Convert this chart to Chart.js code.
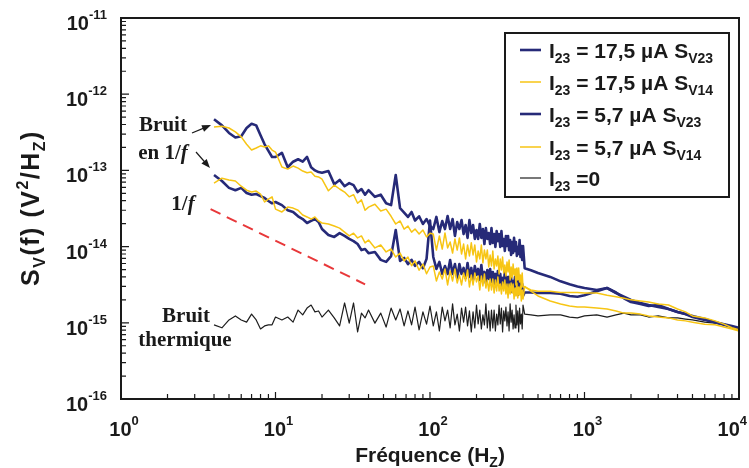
<!DOCTYPE html>
<html>
<head>
<meta charset="utf-8">
<script src="https://cdn.jsdelivr.net/npm/chart.js@4.4.0/dist/chart.umd.min.js"></script>
<style>
  html, body { margin: 0; padding: 0; background: #fff; }
  #wrap { width: 749px; height: 468px; }
</style>
</head>
<body>
<div id="wrap"><canvas id="bruit" width="749" height="468"></canvas></div>
<script>
// fréquences (Hz), communes à toutes les courbes
const freq = [4, 4.5, 5, 5.5, 6, 6.5, 7, 7.5, 8, 8.5, 9, 9.5, 10,
  11, 12, 13, 14, 15, 16, 17, 18, 19, 20,
  22, 24, 26, 28, 30, 32, 34, 36, 38, 40,
  44, 48, 52, 56, 60, 64, 68, 72, 76, 80, 85, 90, 95, 100,
  105, 110, 115, 120, 125, 130, 135, 140, 145, 150, 155, 160, 165, 170, 175, 180, 185, 190, 195, 200,
  205, 210, 215, 220, 225, 230, 235, 240, 245, 250, 255, 260, 265, 270, 275, 280, 285, 290, 295, 300,
  305, 310, 315, 320, 325, 330, 335, 340, 345, 350, 355, 360, 365, 370, 375, 380, 385, 390, 395, 400,
  410, 450, 500, 600, 700, 800, 900, 1000, 1200, 1400, 1600, 1800, 2000, 2300, 2600, 3000, 3500, 4000, 4500, 5000, 6000, 7000, 8000, 9000, 10000];

// Sv(f) en V²/Hz
const sv23_17 = [4.7e-13, 3.9e-13, 3.1e-13, 2.7e-13, 2.8e-13, 3.6e-13, 4.1e-13, 3.9e-13, 2.9e-13, 2.2e-13, 1.8e-13, 1.5e-13, 1.5e-13,
  1.7e-13, 1.1e-13, 1.3e-13, 1.4e-13, 1.3e-13, 1.5e-13, 1.1e-13, 1.0e-13, 9.5e-14, 9.3e-14,
  9.8e-14, 6.6e-14, 7.5e-14, 6.2e-14, 6.8e-14, 6.4e-14, 5.2e-14, 5.7e-14, 4.8e-14, 5.5e-14,
  4.5e-14, 4.8e-14, 3.7e-14, 3.5e-14, 8.7e-14, 3.2e-14, 2.8e-14, 2.45e-14, 2.85e-14, 2.2e-14, 2.5e-14, 1.98e-14, 2.3e-14, 1.86e-14,
  1.70e-14, 2.45e-14, 1.55e-14, 2.17e-14, 1.70e-14, 2.52e-14, 1.70e-14, 2.30e-14, 1.38e-14, 2.10e-14,
  1.70e-14, 2.23e-14, 1.46e-14, 1.92e-14, 1.30e-14, 2.23e-14, 1.51e-14, 1.92e-14, 1.26e-14, 1.65e-14,
  1.26e-14, 1.98e-14, 1.30e-14, 1.70e-14, 1.08e-14, 1.75e-14, 1.26e-14, 1.51e-14, 1.08e-14, 1.75e-14,
  1.12e-14, 1.46e-14, 9.89e-15, 1.60e-14, 1.18e-14, 1.46e-14, 9.89e-15, 1.60e-14, 1.02e-14, 1.26e-14,
  8.76e-15, 1.38e-14, 1.02e-14, 1.38e-14, 9.0e-15, 1.22e-14, 7.76e-15, 1.15e-14, 8.24e-15, 1.30e-14,
  8.76e-15, 1.15e-14, 7.53e-15, 9.89e-15, 8.0e-15, 1.22e-14, 7.31e-15, 1.02e-14, 6.68e-15, 1.02e-14,
  5.2e-15, 4.9e-15, 4.5e-15, 4.0e-15, 3.5e-15, 3.2e-15, 3.0e-15, 2.86e-15, 2.7e-15, 2.86e-15, 2.5e-15, 2.1e-15, 1.87e-15, 1.77e-15, 1.66e-15, 1.71e-15, 1.52e-15, 1.39e-15, 1.3e-15, 1.23e-15, 1.12e-15, 1.02e-15, 9.6e-16, 9.1e-16, 8.6e-16];

const sv14_17 = [3.7e-13, 3.8e-13, 3.6e-13, 3.2e-13, 2.75e-13, 2.2e-13, 1.85e-13, 1.97e-13, 2.1e-13, 2.03e-13, 2.1e-13, 1.85e-13, 1.74e-13,
  1.11e-13, 1.04e-13, 1.14e-13, 1.07e-13, 9.8e-14, 9.3e-14, 9.5e-14, 8.4e-14, 8.2e-14, 7.7e-14,
  5.4e-14, 6.4e-14, 5.7e-14, 5.2e-14, 4.5e-14, 4.8e-14, 3.7e-14, 4.1e-14, 3.0e-14, 3.3e-14,
  3.6e-14, 2.93e-14, 3.1e-14, 2.5e-14, 1.98e-14, 2.17e-14, 1.7e-14, 1.86e-14, 1.55e-14, 1.7e-14, 1.46e-14, 1.65e-14, 1.34e-14, 1.5e-14,
  1.46e-14, 9.0e-15, 1.38e-14, 9.3e-15, 1.51e-14, 9.6e-15, 1.15e-14, 8.24e-15, 1.26e-14, 9.0e-15,
  1.30e-14, 8.0e-15, 1.08e-14, 6.88e-15, 1.05e-14, 7.53e-15, 1.12e-14, 7.76e-15, 1.05e-14, 6.29e-15,
  8.76e-15, 6.88e-15, 1.05e-14, 6.10e-15, 9.0e-15, 6.88e-15, 9.0e-15, 5.41e-15, 7.76e-15, 5.57e-15,
  8.76e-15, 5.09e-15, 6.88e-15, 5.57e-15, 7.53e-15, 4.38e-15, 6.88e-15, 4.94e-15, 7.31e-15, 4.51e-15,
  5.74e-15, 4.12e-15, 6.29e-15, 4.65e-15, 6.68e-15, 3.65e-15, 5.41e-15, 3.88e-15, 5.92e-15, 4.25e-15,
  5.09e-15, 3.14e-15, 5.25e-15, 3.65e-15, 5.25e-15, 3.44e-15, 4.25e-15, 2.86e-15, 4.51e-15, 2.95e-15,
  2.95e-15, 2.7e-15, 2.6e-15, 2.6e-15, 2.5e-15, 2.5e-15, 2.5e-15, 2.46e-15, 2.46e-15, 2.3e-15, 2.2e-15, 2.1e-15, 2.0e-15, 1.93e-15, 1.87e-15, 1.77e-15, 1.71e-15, 1.52e-15, 1.39e-15, 1.23e-15, 1.16e-15, 1.06e-15, 9.6e-16, 8.6e-16, 8.1e-16];

const sv23_57 = [8.7e-14, 7.25e-14, 5.9e-14, 5.5e-14, 5.9e-14, 5.05e-14, 4.8e-14, 4.9e-14, 4.6e-14, 4.35e-14, 3.97e-14, 3.7e-14, 3.85e-14,
  3.5e-14, 3.0e-14, 2.85e-14, 2.5e-14, 2.3e-14, 2.04e-14, 2.17e-14, 2.3e-14, 2.1e-14, 1.7e-14,
  1.42e-14, 1.34e-14, 1.5e-14, 1.38e-14, 1.26e-14, 1.18e-14, 1.08e-14, 9.0e-15, 9.3e-15, 8.2e-15,
  8.5e-15, 6.7e-15, 6.3e-15, 7.5e-15, 1.65e-14, 6.5e-15, 7.1e-15, 5.9e-15, 6.7e-15, 5.6e-15, 6.3e-15, 5.2e-15, 6.9e-15, 2.2e-14,
  7.31e-15, 5.09e-15, 6.29e-15, 4.38e-15, 5.57e-15, 4.38e-15, 6.68e-15, 4.38e-15, 5.92e-15, 3.88e-15,
  5.92e-15, 4.38e-15, 5.25e-15, 3.88e-15, 6.10e-15, 4.00e-15, 5.25e-15, 3.65e-15, 5.57e-15, 4.25e-15,
  5.09e-15, 3.65e-15, 5.74e-15, 3.65e-15, 4.65e-15, 3.33e-15, 4.94e-15, 3.76e-15, 5.09e-15, 3.44e-15,
  4.65e-15, 2.95e-15, 4.38e-15, 3.23e-15, 4.79e-15, 3.33e-15, 4.38e-15, 2.95e-15, 3.88e-15, 3.04e-15,
  4.65e-15, 2.95e-15, 4.00e-15, 2.70e-15, 4.00e-15, 2.78e-15, 3.88e-15, 2.54e-15, 3.54e-15, 2.78e-15,
  4.00e-15, 2.78e-15, 3.76e-15, 2.32e-15, 3.54e-15, 2.78e-15, 3.65e-15, 2.54e-15, 3.23e-15, 2.25e-15,
  2.5e-15, 2.5e-15, 2.46e-15, 2.46e-15, 2.4e-15, 2.25e-15, 2.2e-15, 2.3e-15, 2.6e-15, 2.86e-15, 2.46e-15, 2.2e-15, 2.0e-15, 1.82e-15, 1.71e-15, 1.61e-15, 1.52e-15, 1.39e-15, 1.3e-15, 1.19e-15, 1.09e-15, 1.02e-15, 9.4e-16, 8.8e-16, 8.3e-16];

const sv14_57 = [6.8e-14, 7.9e-14, 7.5e-14, 7.25e-14, 6.2e-14, 5.5e-14, 5.2e-14, 5.35e-14, 4.9e-14, 3.85e-14, 4.2e-14, 4.5e-14, 3.1e-14,
  2.85e-14, 3.3e-14, 3.2e-14, 3.0e-14, 2.6e-14, 2.45e-14, 2.3e-14, 2.45e-14, 2.17e-14, 2.04e-14,
  1.98e-14, 1.86e-14, 1.75e-14, 1.55e-14, 1.38e-14, 1.5e-14, 1.3e-14, 1.38e-14, 1.12e-14, 1.22e-14,
  9.6e-15, 1.05e-14, 8.5e-15, 9.3e-15, 7.3e-15, 8.2e-15, 6.5e-15, 7.3e-15, 5.6e-15, 6.5e-15, 4.9e-15, 5.9e-15, 4.4e-15, 5.4e-15,
  5.57e-15, 3.54e-15, 4.65e-15, 3.76e-15, 5.09e-15, 3.14e-15, 4.79e-15, 3.54e-15, 5.09e-15, 3.33e-15,
  4.25e-15, 3.14e-15, 4.51e-15, 3.54e-15, 4.94e-15, 2.95e-15, 4.25e-15, 3.14e-15, 4.51e-15, 3.44e-15,
  4.12e-15, 2.70e-15, 4.12e-15, 3.04e-15, 4.38e-15, 2.86e-15, 3.65e-15, 2.62e-15, 3.76e-15, 2.70e-15,
  3.76e-15, 2.46e-15, 3.65e-15, 2.62e-15, 4.00e-15, 2.62e-15, 3.23e-15, 2.39e-15, 3.44e-15, 2.62e-15,
  3.65e-15, 2.39e-15, 3.23e-15, 2.12e-15, 3.23e-15, 2.39e-15, 3.33e-15, 2.46e-15, 3.23e-15, 2.05e-15,
  2.86e-15, 2.25e-15, 3.33e-15, 2.12e-15, 2.95e-15, 2.32e-15, 3.04e-15, 1.93e-15, 2.70e-15, 2.05e-15,
  3.0e-15, 2.6e-15, 2.25e-15, 1.93e-15, 1.77e-15, 1.66e-15, 1.61e-15, 1.61e-15, 1.56e-15, 1.52e-15, 1.43e-15, 1.34e-15, 1.34e-15, 1.3e-15, 1.23e-15, 1.19e-15, 1.16e-15, 1.09e-15, 1.06e-15, 1.02e-15, 9.6e-16, 9.4e-16, 8.8e-16, 8.3e-16, 7.8e-16];

const thermique = [9.4e-16, 8.6e-16, 1.09e-15, 1.23e-15, 1.09e-15, 1.02e-15, 1.3e-15, 1.09e-15, 8.3e-16, 9.1e-16, 9.4e-16, 9.4e-16, 1.19e-15,
  1.09e-15, 1.19e-15, 1.02e-15, 1.47e-15, 1.27e-15, 1.56e-15, 1.71e-15, 1.39e-15, 1.43e-15, 1.19e-15,
  1.47e-15, 1.16e-15, 9.1e-16, 1.82e-15, 9.9e-16, 1.82e-15, 7.6e-16, 1.34e-15, 1.16e-15, 1.47e-15,
  9.9e-16, 1.34e-15, 8.8e-16, 1.56e-15, 1.09e-15, 1.52e-15, 9.1e-16, 1.43e-15, 9.4e-16, 1.61e-15, 8.1e-16, 1.39e-15, 9.6e-16, 1.66e-15,
  9.08e-16, 1.39e-15, 7.80e-16, 1.61e-15, 1.06e-15, 1.47e-15, 8.55e-16, 1.77e-15, 9.36e-16, 1.30e-15,
  7.80e-16, 1.56e-15, 1.02e-15, 1.61e-15, 9.08e-16, 1.43e-15, 7.57e-16, 1.39e-15, 8.55e-16, 1.71e-15,
  9.64e-16, 1.47e-15, 8.29e-16, 1.27e-15, 9.36e-16, 1.77e-15, 8.55e-16, 1.43e-15, 7.80e-16, 1.47e-15,
  8.55e-16, 1.47e-15, 7.80e-16, 1.30e-15, 9.36e-16, 1.71e-15, 9.64e-16, 1.56e-15, 7.57e-16, 1.43e-15,
  1.06e-15, 1.61e-15, 9.08e-16, 1.39e-15, 7.80e-16, 1.77e-15, 1.02e-15, 1.47e-15, 8.29e-16, 1.27e-15,
  8.55e-16, 1.71e-15, 9.36e-16, 1.43e-15, 7.57e-16, 1.56e-15, 9.64e-16, 1.30e-15, 8.29e-16, 1.71e-15,
  1.3e-15, 1.27e-15, 1.23e-15, 1.27e-15, 1.27e-15, 1.19e-15, 1.16e-15, 1.23e-15, 1.27e-15, 1.19e-15, 1.27e-15, 1.34e-15, 1.27e-15, 1.27e-15, 1.19e-15, 1.23e-15, 1.16e-15, 1.16e-15, 1.12e-15, 1.09e-15, 1.02e-15, 9.9e-16, 9.4e-16, 8.8e-16, 8.3e-16];

// droite de pente 1/f (pointillés rouges)
const pente_f = [3.8, 38];
const pente_v = [3.1e-14, 3.2e-15];

// graduations
const xDecades = [1, 10, 100, 1000, 10000];
const xExp = ['0', '1', '2', '3', '4'];
const yDecades = [1e-11, 1e-12, 1e-13, 1e-14, 1e-15, 1e-16];
const yExp = ['-11', '-12', '-13', '-14', '-15', '-16'];

const NAVY = '#262a78';
const JAUNE = '#f7c514';
const NOIR = '#1e1e1e';
const ROUGE = '#e8383a';

// légende : texte, indice, suite, indice
const legende = [
  { c: NAVY, w: 2.6, t: ['I', '23', ' = 17,5 µA S', 'V23'] },
  { c: JAUNE, w: 1.5, t: ['I', '23', ' = 17,5 µA S', 'V14'] },
  { c: NAVY, w: 2.6, t: ['I', '23', ' = 5,7 µA S', 'V23'] },
  { c: JAUNE, w: 1.5, t: ['I', '23', ' = 5,7 µA S', 'V14'] },
  { c: NOIR, w: 1.2, t: ['I', '23', ' =0', ''] }
];

const SANS = '"Liberation Sans", Arial, sans-serif';
const SERIF = '"Liberation Serif", "Times New Roman", serif';

function pts(xs, ys) {
  return xs.map((f, i) => ({ x: f, y: ys[i] }));
}

// texte avec indices / exposants, alignement sur la ligne de base
function rich(ctx, parts, x, y, align) {
  let w = 0;
  parts.forEach(p => { ctx.font = p[1]; w += ctx.measureText(p[0]).width; });
  let cx = align === 'right' ? x - w : (align === 'center' ? x - w / 2 : x);
  ctx.textAlign = 'left';
  ctx.textBaseline = 'alphabetic';
  parts.forEach(p => {
    ctx.font = p[1];
    ctx.fillText(p[0], cx, y + (p[2] || 0));
    cx += ctx.measureText(p[0]).width;
  });
}

function fleche(ctx, x1, y1, x2, y2) {
  const a = Math.atan2(y2 - y1, x2 - x1);
  ctx.beginPath();
  ctx.moveTo(x1, y1);
  ctx.lineTo(x2 - 6 * Math.cos(a), y2 - 6 * Math.sin(a));
  ctx.stroke();
  ctx.beginPath();
  ctx.moveTo(x2, y2);
  ctx.lineTo(x2 - 9 * Math.cos(a) + 3.5 * Math.sin(a), y2 - 9 * Math.sin(a) - 3.5 * Math.cos(a));
  ctx.lineTo(x2 - 9 * Math.cos(a) - 3.5 * Math.sin(a), y2 - 9 * Math.sin(a) + 3.5 * Math.cos(a));
  ctx.closePath();
  ctx.fill();
}

const decor = {
  id: 'decor',
  afterDatasetsDraw(chart) {
    const ctx = chart.ctx;
    const a = chart.chartArea;
    const sx = chart.scales.x;
    const sy = chart.scales.y;
    ctx.save();
    ctx.strokeStyle = '#1a1a1a';
    ctx.fillStyle = '#1a1a1a';

    // cadre
    ctx.lineWidth = 2;
    ctx.strokeRect(a.left, a.top, a.right - a.left, a.bottom - a.top);

    // graduations vers l'intérieur
    ctx.lineWidth = 1.2;
    ctx.beginPath();
    for (let d = -16; d < -11; d++) {
      for (let m = 1; m < 10; m++) {
        const py = sy.getPixelForValue(m * Math.pow(10, d));
        ctx.moveTo(a.left, py);
        ctx.lineTo(a.left + (m === 1 ? 8 : 5), py);
      }
    }
    for (let d = 0; d < 4; d++) {
      for (let m = 1; m < 10; m++) {
        const px = sx.getPixelForValue(m * Math.pow(10, d));
        ctx.moveTo(px, a.bottom);
        ctx.lineTo(px, a.bottom - (m === 1 ? 7 : 5));
      }
    }
    ctx.stroke();

    // étiquettes des axes
    const B20 = 'bold 20px ' + SANS;
    const B13 = 'bold 13px ' + SANS;
    yDecades.forEach((v, i) => {
      const py = sy.getPixelForValue(v);
      rich(ctx, [['10', B20], [yExp[i], B13, -11]], 107, py + 12, 'right');
    });
    xDecades.forEach((v, i) => {
      const px = sx.getPixelForValue(v);
      if (i === xDecades.length - 1) {
        rich(ctx, [['10', B20], [xExp[i], B13, -11]], 747, 436, 'right');
      } else {
        rich(ctx, [['10', B20], [xExp[i], B13, -11]], px + 3, 436, 'center');
      }
    });

    // titres
    const B21 = 'bold 21px ' + SANS;
    const B14 = 'bold 14px ' + SANS;
    rich(ctx, [['Fréquence (H', B21], ['Z', B14, 5], [')', B21]], 430, 462, 'center');
    ctx.save();
    ctx.translate(30, 208);
    ctx.rotate(-Math.PI / 2);
    ctx.letterSpacing = '1.5px';
    const B26 = 'bold 25px ' + SANS;
    const B17 = 'bold 16px ' + SANS;
    rich(ctx, [['S', B26], ['V', B17, 6], ['(f) (V', B26], ['2', B17, -11], ['/H', B26], ['Z', B17, 6], [')', B26]], 0, 9, 'center');
    ctx.letterSpacing = '0px';
    ctx.restore();

    // légende
    ctx.lineWidth = 2;
    ctx.strokeRect(505, 33, 224, 164);
    const ly = [50, 82, 114, 147, 178];
    const L21 = 'bold 21px ' + SANS;
    const L14 = 'bold 14px ' + SANS;
    legende.forEach((it, i) => {
      ctx.strokeStyle = it.c;
      ctx.lineWidth = it.w;
      ctx.beginPath();
      ctx.moveTo(520, ly[i]);
      ctx.lineTo(541, ly[i]);
      ctx.stroke();
      ctx.fillStyle = '#1a1a1a';
      rich(ctx, [[it.t[0], L21], [it.t[1], L14, 5], [it.t[2], L21], [it.t[3], L14, 5]], 549, ly[i] + 8, 'left');
    });

    // annotations
    ctx.fillStyle = '#1a1a1a';
    ctx.strokeStyle = '#1a1a1a';
    const S21 = 'bold 21px ' + SERIF;
    const S21i = 'italic bold 21px ' + SERIF;
    rich(ctx, [['Bruit', S21]], 163, 131, 'center');
    rich(ctx, [['en 1/', S21], ['f', S21i]], 163, 159, 'center');
    rich(ctx, [['1/', S21], ['f', S21i]], 183, 210, 'center');
    rich(ctx, [['Bruit', S21]], 186, 322, 'center');
    rich(ctx, [['thermique', S21]], 185, 346, 'center');
    ctx.lineWidth = 1.2;
    fleche(ctx, 192, 133, 211, 125);
    fleche(ctx, 196, 152, 210, 168);

    ctx.restore();
  }
};

const ctxBruit = document.getElementById('bruit');

const datasets = [
  { label: 'I23 = 17,5 µA SV23', data: pts(freq, sv23_17), borderColor: NAVY, borderWidth: 2.6, order: 2 },
  { label: 'I23 = 17,5 µA SV14', data: pts(freq, sv14_17), borderColor: JAUNE, borderWidth: 1.5, order: 1 },
  { label: 'I23 = 5,7 µA SV23', data: pts(freq, sv23_57), borderColor: NAVY, borderWidth: 2.6, order: 2 },
  { label: 'I23 = 5,7 µA SV14', data: pts(freq, sv14_57), borderColor: JAUNE, borderWidth: 1.5, order: 1 },
  { label: 'I23 =0', data: pts(freq, thermique), borderColor: NOIR, borderWidth: 1.2, order: 3 },
  { label: '1/f', data: pts(pente_f, pente_v), borderColor: ROUGE, borderWidth: 2, borderDash: [11, 7], order: 0 }
];

const bruitChart = new Chart(ctxBruit, {
  type: 'line',
  data: { datasets: datasets },
  options: {
    responsive: false,
    animation: false,
    layout: { padding: { left: 121, right: 10, top: 18, bottom: 69 } },
    elements: {
      point: { radius: 0 },
      line: { tension: 0, fill: false, borderJoinStyle: 'round' }
    },
    scales: {
      x: { type: 'logarithmic', min: 1, max: 10000, display: false },
      y: { type: 'logarithmic', min: 1e-16, max: 1e-11, display: false }
    },
    plugins: {
      legend: { display: false },
      tooltip: { enabled: false }
    }
  },
  plugins: [decor]
});
</script>
</body>
</html>
